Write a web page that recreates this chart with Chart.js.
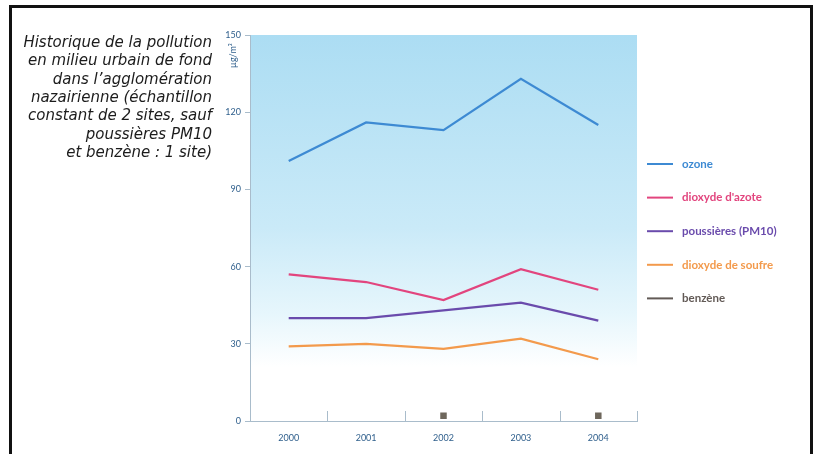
<!DOCTYPE html>
<html lang="fr">
<head>
<meta charset="utf-8">
<title>Historique de la pollution – agglomération nazairienne</title>
<script src="https://cdn.jsdelivr.net/npm/chart.js@4/dist/chart.umd.min.js"></script>
<style>
  html, body { margin: 0; padding: 0; background: #ffffff; }
  #wrap { position: relative; width: 821px; height: 454px; overflow: hidden; }
  canvas { display: block; }
</style>
</head>
<body>
<div id="wrap"><canvas id="c" width="821" height="454"></canvas></div>
<script>
// Années et concentrations moyennes (µg/m³)
const years = ['2000', '2001', '2002', '2003', '2004'];
const ozone = [101, 116, 113, 133, 115];
const dioxydeAzote = [57, 54, 47, 59, 51];
const poussieres = [40, 40, 43, 46, 39];
const dioxydeSoufre = [29, 30, 28, 32, 24];
const benzene = [null, null, 2, null, 2];
const yTicks = [0, 30, 60, 90, 120, 150];

const seriesNames = ['ozone', "dioxyde d'azote", 'poussières (PM10)', 'dioxyde de soufre', 'benzène'];
const seriesColors = ['#3d8ad3', '#e2457e', '#6a4bac', '#f39a4c', '#625a56'];

const caption = [
  'Historique de la pollution',
  'en milieu urbain de fond',
  'dans l\u2019agglomération',
  'nazairienne (échantillon',
  'constant de 2 sites, sauf',
  'poussières PM10',
  'et benzène\u00a0: 1 site)'
];

const axisColor = '#a9bccb';
const tickTextColor = '#2f5f8c';

// Fond dégradé bleu ciel de la zone de tracé
const backdrop = {
  id: 'backdrop',
  beforeDraw(chart) {
    const { ctx, chartArea: a } = chart;
    const g = ctx.createLinearGradient(0, a.top, 0, a.bottom);
    g.addColorStop(0, '#acddf3');
    g.addColorStop(0.5, '#caeaf8');
    g.addColorStop(0.72, '#e6f6fc');
    g.addColorStop(0.86, '#ffffff');
    g.addColorStop(1, '#ffffff');
    ctx.save();
    ctx.fillStyle = g;
    ctx.fillRect(a.left, a.top, a.right - a.left, a.bottom - a.top);
    ctx.restore();
  }
};

// Cadre, légende du graphique, unité et marques de l'axe des années
const decorations = {
  id: 'decorations',
  afterDraw(chart) {
    const { ctx, chartArea: a, scales } = chart;
    ctx.save();

    // cadre noir
    ctx.strokeStyle = '#111111';
    ctx.lineWidth = 3;
    ctx.strokeRect(10.5, 6.5, 801, 470);

    // texte de présentation
    ctx.fillStyle = '#1c1c1c';
    ctx.font = 'oblique 15px "DejaVu Sans", sans-serif';
    ctx.textAlign = 'right';
    ctx.textBaseline = 'middle';
    caption.forEach((line, i) => ctx.fillText(line, 212, 43 + i * 18.4));

    // unité de l'axe vertical
    const yU = scales.y.getPixelForValue(142);
    ctx.save();
    ctx.translate(233, yU);
    ctx.rotate(-Math.PI / 2);
    ctx.fillStyle = tickTextColor;
    ctx.font = '9px Lato, sans-serif';
    ctx.textAlign = 'center';
    ctx.textBaseline = 'middle';
    ctx.fillText('µg/m³', 0, 0);
    ctx.restore();

    // petites marques verticales entre les années
    const xs = scales.x;
    const step = xs.getPixelForValue(1) - xs.getPixelForValue(0);
    ctx.strokeStyle = axisColor;
    ctx.lineWidth = 1;
    for (let i = 0; i < years.length; i++) {
      const x = Math.round(xs.getPixelForValue(i) + step / 2) + 0.5;
      ctx.beginPath();
      ctx.moveTo(x, a.bottom);
      ctx.lineTo(x, a.bottom - 10);
      ctx.stroke();
    }

    // légende
    ctx.font = 'bold 11.5px Lato, "Open Sans", sans-serif';
    ctx.textAlign = 'left';
    ctx.textBaseline = 'middle';
    chart.data.datasets.forEach((ds, i) => {
      const y = 164 + i * 33.6;
      ctx.strokeStyle = ds.borderColor;
      ctx.lineWidth = 2;
      ctx.beginPath();
      ctx.moveTo(647, y);
      ctx.lineTo(673, y);
      ctx.stroke();
      ctx.fillStyle = ds.borderColor;
      ctx.fillText(ds.label, 682, y);
    });
    ctx.restore();
  }
};

const lineSeries = [ozone, dioxydeAzote, poussieres, dioxydeSoufre];
const datasets = lineSeries.map((values, i) => ({
  label: seriesNames[i],
  data: values,
  borderColor: seriesColors[i],
  backgroundColor: seriesColors[i],
  borderWidth: 2.2,
  pointRadius: 0,
  tension: 0,
  fill: false
}));
datasets.push({
  label: seriesNames[4],
  data: benzene,
  borderColor: seriesColors[4],
  backgroundColor: '#6e675c',
  showLine: false,
  pointStyle: 'rect',
  pointRadius: 4.6,
  pointBorderWidth: 0
});

new Chart(document.getElementById('c'), {
  type: 'line',
  data: { labels: years, datasets },
  options: {
    responsive: false,
    animation: false,
    devicePixelRatio: 1,
    layout: { padding: { left: 0, top: 35, right: 184, bottom: 0 } },
    plugins: {
      legend: { display: false },
      tooltip: { enabled: false }
    },
    scales: {
      x: {
        type: 'category',
        offset: true,
        grid: { display: false, drawTicks: false },
        border: { color: axisColor, width: 1 },
        ticks: {
          color: tickTextColor,
          font: { family: 'Lato, sans-serif', size: 9 },
          padding: 12,
          maxRotation: 0
        },
        afterFit(scale) { scale.height = 33; }
      },
      y: {
        min: 0,
        max: 150,
        afterBuildTicks(scale) { scale.ticks = yTicks.map(v => ({ value: v })); },
        grid: { drawOnChartArea: false, tickLength: 5, color: axisColor },
        border: { color: axisColor, width: 1 },
        ticks: {
          color: tickTextColor,
          font: { family: 'Lato, sans-serif', size: 9 },
          padding: 4
        },
        afterFit(scale) { scale.width = 250; }
      }
    }
  },
  plugins: [backdrop, decorations]
});
</script>
</body>
</html>
